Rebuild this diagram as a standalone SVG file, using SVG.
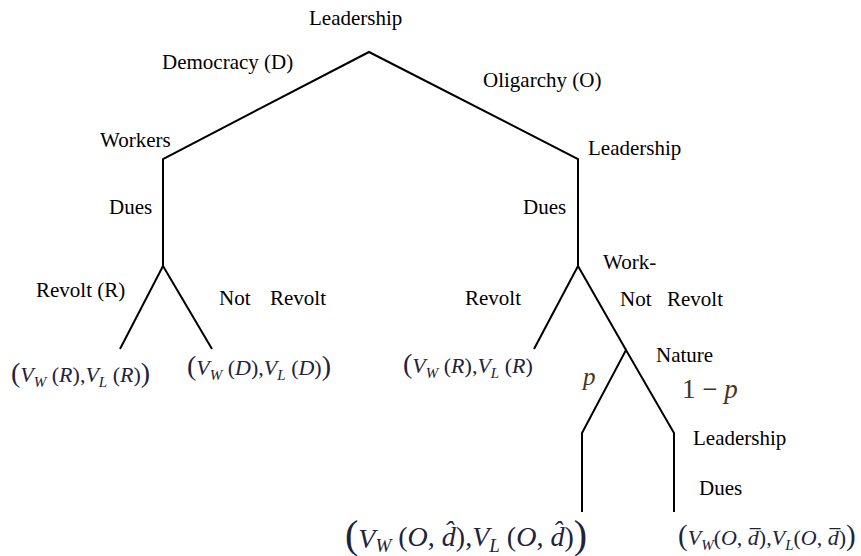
<svg xmlns="http://www.w3.org/2000/svg" width="861" height="556" viewBox="0 0 861 556">
<style>
.t{font-family:'Liberation Serif','Times New Roman',serif;font-size:21px;fill:#000;font-style:normal}
.m{font-family:'Liberation Serif','Times New Roman',serif;font-style:italic;fill:#22223a}
.up{font-style:normal}
.pp{font-family:'Liberation Serif','Times New Roman',serif;font-style:italic;fill:#4a3220}
.e{stroke:#000;stroke-width:2;fill:none;stroke-linejoin:miter}
</style>
<rect width="861" height="556" fill="#fff"/>
<g id="connectors">
<polyline class="e" points="163,266 163,159 369,52 578,159 578,266"/>
<line class="e" x1="163" y1="266" x2="120" y2="349"/>
<line class="e" x1="163" y1="266" x2="212" y2="349"/>
<line class="e" x1="578" y1="266" x2="534" y2="349"/>
<line class="e" x1="578" y1="266" x2="626" y2="350"/>
<polyline class="e" points="582,512 582,433 626,350 674,433 674,512"/>
</g>
<g id="root"><text class="t" x="309" y="25">Leadership</text></g>
<g id="edge-democracy"><text class="t" x="162" y="69">Democracy (D)</text></g>
<g id="edge-oligarchy"><text class="t" x="483" y="87">Oligarchy (O)</text></g>
<g id="workers"><text class="t" x="100" y="147">Workers</text><text class="t" x="109" y="214">Dues</text></g>
<g id="leadership-o"><text class="t" x="588" y="155">Leadership</text><text class="t" x="523" y="214">Dues</text></g>
<g id="workers-d-choice"><text class="t" x="36" y="297">Revolt (R)</text><text class="t" x="219" y="305">Not</text><text class="t" x="270" y="305">Revolt</text></g>
<g id="workers-o-choice"><text class="t" x="465" y="305">Revolt</text><text class="t" x="603" y="269">Work-</text><text class="t" x="620" y="306">Not</text><text class="t" x="667" y="306">Revolt</text></g>
<g id="nature"><text class="t" x="656" y="362">Nature</text>
<text class="pp" x="583" y="385" font-size="25">p</text>
<text class="pp" x="682" y="398" font-size="27"><tspan font-style="normal">1 − </tspan>p</text></g>
<g id="leadership-lower"><text class="t" x="693" y="445">Leadership</text><text class="t" x="699" y="495">Dues</text></g>
<g id="payoff-r"><text class="m" x="11" y="382" font-size="22"><tspan class="up" font-size="28">(</tspan>V<tspan font-size="15" dy="5">W</tspan><tspan dy="-5" class="up"> (</tspan>R<tspan class="up">),</tspan>V<tspan font-size="15" dy="5">L</tspan><tspan dy="-5" class="up"> (</tspan>R<tspan class="up">)</tspan><tspan class="up" font-size="28">)</tspan></text></g>
<g id="payoff-d"><text class="m" x="187" y="375" font-size="22"><tspan class="up" font-size="28">(</tspan>V<tspan font-size="15" dy="5">W</tspan><tspan dy="-5" class="up"> (</tspan>D<tspan class="up">),</tspan>V<tspan font-size="15" dy="5">L</tspan><tspan dy="-5" class="up"> (</tspan>D<tspan class="up">)</tspan><tspan class="up" font-size="28">)</tspan></text></g>
<g id="payoff-or"><text class="m" x="403" y="373" font-size="22"><tspan class="up" font-size="28">(</tspan>V<tspan font-size="15" dy="5">W</tspan><tspan dy="-5" class="up"> (</tspan>R<tspan class="up">),</tspan>V<tspan font-size="15" dy="5">L</tspan><tspan dy="-5" class="up"> (</tspan>R<tspan class="up">)</tspan></text></g>
<g id="payoff-dhat"><text class="m" x="345" y="546" font-size="28"><tspan class="up" font-size="40" dy="2">(</tspan>V<tspan font-size="19" dy="4">W</tspan><tspan dy="-6" class="up"> (</tspan>O<tspan class="up">, </tspan>d̂<tspan class="up">),</tspan>V<tspan font-size="19" dy="6">L</tspan><tspan dy="-6" class="up"> (</tspan>O<tspan class="up">, </tspan>d̂<tspan class="up">)</tspan><tspan class="up" font-size="40" dy="2">)</tspan></text></g>
<g id="payoff-dbar"><text class="m" x="678" y="545" font-size="22"><tspan class="up" font-size="29">(</tspan>V<tspan font-size="15" dy="5">W</tspan><tspan dy="-5" class="up">(</tspan>O<tspan class="up">, </tspan>d̅<tspan class="up">),</tspan>V<tspan font-size="15" dy="5">L</tspan><tspan dy="-5" class="up">(</tspan>O<tspan class="up">, </tspan>d̅<tspan class="up">)</tspan><tspan class="up" font-size="29">)</tspan></text></g>
</svg>
